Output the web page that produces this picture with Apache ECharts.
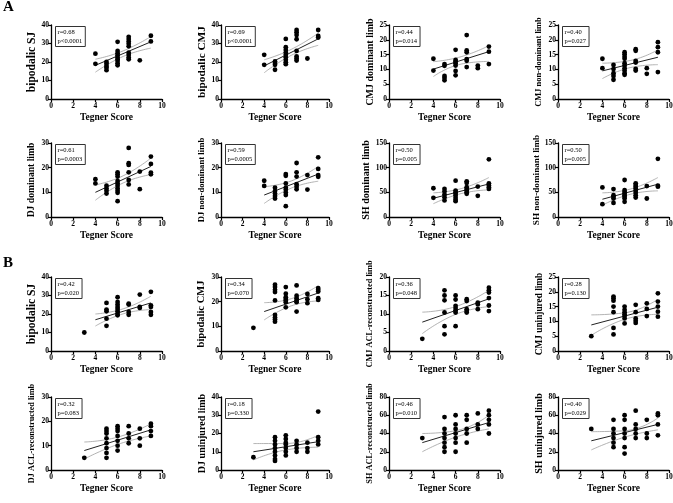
<!DOCTYPE html>
<html>
<head>
<meta charset="utf-8">
<script src="https://cdn.jsdelivr.net/npm/echarts@6/dist/echarts.min.js"></script>
<style>
  html, body { margin: 0; padding: 0; background: #fff; }
  #chart { width: 673px; height: 503px; }
</style>
</head>
<body>
<div id="chart"></div>
<script>
// panel titles (y axis), read row by row
const yNames = ['bipodalic SJ', 'bipodalic CMJ', 'CMJ dominant limb', 'CMJ non-dominant limb',
  'DJ dominant limb', 'DJ non-dominant limb', 'SH dominant limb', 'SH non-dominant limb',
  'bipodalic SJ', 'bipodalic CMJ', 'CMJ ACL-reconstructed limb', 'CMJ uninjured limb',
  'DJ ACL-reconstructed limb', 'DJ uninjured limb', 'SH ACL-reconstructed limb', 'SH uninjured limb']
const yMax = [40, 40, 25, 25, 30, 30, 150, 150, 40, 30, 20, 25, 30, 40, 80, 80]
const yStep = [10, 10, 5, 5, 10, 10, 50, 50, 10, 10, 5, 5, 10, 10, 20, 20]
const rText = ['0.68', '0.69', '0.44', '0.40', '0.61', '0.59', '0.50', '0.50',
  '0.42', '0.34', '0.36', '0.28', '0.32', '0.18', '0.46', '0.40']
const pText = ['<0.0001', '<0.0001', '=0.014', '=0.027', '=0.0003', '=0.0005', '=0.005', '=0.005',
  '=0.020', '=0.070', '=0.048', '=0.130', '=0.083', '=0.330', '=0.010', '=0.029']

// scatter points [tegner, value]
const sjHealthy = [[4,24.5],[4,19],[5,20],[5,19],[5,17.8],[5,16.9],[5,15.6],[6,30.9],[6,26],[6,24.7],[6,23.6],[6,22.4],[6,21.5],[6,20.5],[6,19.3],[6,18.2],[7,33.6],[7,32.4],[7,31.1],[7,29.8],[7,28.5],[7,25],[7,23.8],[7,22.4],[7,21.5],[8,20.9],[9,34.2],[9,31.1]]
const cmjHealthy = [[4,23.9],[4,18.5],[5,20.3],[5,19.4],[5,18.5],[5,15.8],[6,32.5],[6,28],[6,26.5],[6,25.1],[6,23.9],[6,22.6],[6,21.2],[6,19.9],[6,18.8],[7,37.3],[7,36.1],[7,34.6],[7,32.3],[7,26],[7,23],[7,21.9],[7,20.8],[8,21.9],[9,37.3],[9,34.1],[9,33.2]]
const cmjDom = [[4,13.6],[4,9.6],[5,11.8],[5,11.2],[5,7.8],[5,7.1],[5,6.3],[6,16.6],[6,13.2],[6,12.7],[6,12.1],[6,11.3],[6,9.5],[6,8],[7,21.6],[7,16.4],[7,15.8],[7,13.5],[7,12.9],[7,10.8],[8,11.3],[8,10.4],[9,17.7],[9,16],[9,11.8]]
const cmjNonDom = [[4,13.6],[4,10.4],[5,11.5],[5,10.1],[5,8.7],[5,7.8],[5,6.5],[6,15.8],[6,15.1],[6,14.3],[6,13.6],[6,12.1],[6,11.3],[6,10.4],[6,9.6],[6,8.7],[6,8.2],[7,16.8],[7,16.3],[7,12.9],[7,12.3],[7,10.2],[7,9.6],[8,10.4],[8,8.5],[9,19.2],[9,17.5],[9,15.8],[9,9.1]]
const djDom = [[4,15.3],[4,13.6],[5,12.7],[5,11.6],[5,10.6],[5,9.5],[6,18.1],[6,17.3],[6,16.4],[6,14.6],[6,13.6],[6,12.7],[6,11.6],[6,10.6],[6,9.8],[6,6.4],[7,28],[7,21.8],[7,21.1],[7,18.1],[7,15],[7,13.2],[8,18.4],[8,11.3],[9,24.5],[9,21.5],[9,18],[9,17.3]]
const djNonDom = [[4,14.7],[4,12.6],[5,11.9],[5,10.5],[5,9.5],[5,8.5],[5,7.5],[6,17.4],[6,16.7],[6,13.6],[6,11.9],[6,11],[6,9.9],[6,8.9],[6,4.4],[7,21.9],[7,18.1],[7,16.4],[7,13.3],[7,12.3],[7,11.2],[8,17],[8,11.1],[9,24.2],[9,19.5],[9,17],[9,16.3]]
const shDom = [[4,58.3],[4,38.8],[5,56.9],[5,51.6],[5,45.5],[5,40.2],[5,33.5],[6,73.7],[6,53.6],[6,50.2],[6,46.9],[6,43.5],[6,38.8],[6,34.8],[6,32.1],[7,72.3],[7,69],[7,60.3],[7,56.9],[7,53.6],[7,50.2],[7,46.9],[8,61.6],[8,42.9],[9,117],[9,68.3],[9,63.6],[9,60.3],[9,56.9]]
const shNonDom = [[4,60],[4,25.9],[5,56.6],[5,44.3],[5,40.9],[5,37.5],[5,28.6],[6,75],[6,54.5],[6,51.1],[6,47.7],[6,44.3],[6,40.9],[6,37.5],[6,30.7],[7,68.2],[7,64.8],[7,61.4],[7,57.9],[7,53.2],[7,49.1],[7,44.3],[7,39.5],[8,62.7],[8,37.5],[9,118],[9,63.4],[9,61.4]]
const sjAcl = [[3,10],[5,26],[5,22.4],[5,21.5],[5,17.5],[5,13.6],[6,29.1],[6,26.5],[6,25.1],[6,23.8],[6,22.7],[6,21.5],[6,20.2],[6,19.3],[7,25.6],[7,25.1],[7,21.1],[7,19.6],[8,30.5],[8,23.8],[8,23.3],[9,32],[9,24.7],[9,23.8],[9,21.1],[9,19.6]]
const cmjAcl = [[3,9.4],[5,26.9],[5,25.9],[5,24.8],[5,23.9],[5,20.5],[5,14.6],[5,13.6],[5,12.8],[5,11.9],[6,25.9],[6,23.2],[6,21.8],[6,21.1],[6,20.5],[6,19.8],[6,17.7],[7,26.6],[7,22.4],[7,21.4],[7,20.5],[7,19.8],[7,16],[8,23.1],[8,21],[8,19.4],[9,25.5],[9,24.8],[9,24.1],[9,21.4],[9,20.7]]
const cmjRecon = [[3,3.3],[5,16.4],[5,15],[5,13.7],[5,10.4],[5,6.7],[5,4.5],[6,15],[6,13.9],[6,12.2],[6,11.6],[6,11],[6,10.4],[6,6.7],[7,14],[7,13.5],[7,11.3],[7,10.8],[7,10.4],[8,13.1],[8,12.6],[8,11.3],[9,17.1],[9,16.4],[9,15.8],[9,14.3],[9,12.3],[9,10.8]]
const cmjUninj = [[3,5],[5,18.4],[5,17.8],[5,17],[5,15],[5,13.1],[5,7.8],[5,5.6],[6,15],[6,13.9],[6,13.1],[6,12.4],[6,11.8],[6,11],[6,9.3],[7,15.6],[7,13.1],[7,11],[7,10.2],[7,9.5],[8,16.1],[8,14.2],[8,11.8],[9,19.5],[9,16.7],[9,15],[9,13.3],[9,11.6]]
const djRecon = [[3,5],[5,17],[5,16],[5,15],[5,13],[5,11],[5,9],[5,7],[5,5],[6,18],[6,17],[6,16],[6,14],[6,12],[6,10],[6,8],[7,18],[7,15],[7,13],[7,11],[8,17],[8,13],[8,10],[9,19],[9,18],[9,16],[9,14]]
const djUninj = [[3,7],[5,18],[5,16],[5,14],[5,12],[5,10],[5,8],[5,6],[5,5],[6,19],[6,17],[6,15],[6,14],[6,12],[6,10],[6,8],[7,16],[7,14],[7,12],[7,10],[8,15],[8,12],[8,10],[9,32],[9,18],[9,16],[9,14]]
const shRecon = [[3,35],[5,58],[5,45],[5,40],[5,35],[5,30],[5,25],[5,20],[6,60],[6,50],[6,45],[6,40],[6,35],[6,30],[6,20],[7,60],[7,55],[7,45],[7,40],[7,30],[8,62],[8,50],[8,45],[9,65],[9,60],[9,55],[9,50],[9,40]]
const shUninj = [[3,45],[5,55],[5,45],[5,40],[5,35],[5,30],[5,25],[6,60],[6,55],[6,45],[6,40],[6,35],[6,25],[6,18],[7,65],[7,50],[7,45],[7,40],[7,35],[8,55],[8,40],[8,35],[9,62],[9,60],[9,50],[9,38]]
const points = [sjHealthy, cmjHealthy, cmjDom, cmjNonDom, djDom, djNonDom, shDom, shNonDom,
  sjAcl, cmjAcl, cmjRecon, cmjUninj, djRecon, djUninj, shRecon, shUninj]

const fitX = [[4,6.5,9],[4,6.5,9],[4,6.5,9],[4,6.5,9],[4,6.5,9],[4,6.5,9],[4,6.5,9],[4,6.5,9],
  [4,6.5,9],[4,6.5,9],[3,6,9],[3,6,9],[3,6,9],[3,6,9],[3,6,9],[3,6,9]]
const fitY = [[18.2,30.9],[17.9,32.5],[10.1,16],[9.5,14.1],[10,20.5],[8.9,17.4],[38,67],[36,66.5],
  [16.9,26],[16,23.5],[7.8,14.1],[8.8,14.8],[8,16.5],[10,15.5],[30,52],[32,50]]
const bandHi = [[21.5,26,33.8],[21.2,26.8,35.6],[12.6,14.3,18],[12.1,13,16.6],[13,16.7,23.9],[12.3,14.6,20.5],[49,57.5,80],[49,56.5,80],
  [20,22.8,29.6],[19.6,21.2,26.5],[10.5,12,16.4],[12.2,12.9,17.5],[11.5,13.5,19],[14.5,14.5,19],[40,43,60],[42,43,57]]
const bandLo = [[14.5,23,27.5],[14.2,23.6,29],[7.6,11.8,12.7],[6.9,10.6,11.6],[6.8,13.8,17.2],[5.5,11.7,14.5],[27,47.5,55],[24,46,53],
  [13.5,20.1,22.4],[12.6,18.3,20.3],[4.7,9.9,12],[5.3,10.7,12.4],[4.5,10.5,14],[5.5,11,12.5],[20,36,45],[22,36,44]]

// layout
const colLeft = [51, 221, 389, 558]
const colRight = [162, 329, 500, 669]
const rowTop = [25, 143, 277, 397]
const rowBottom = [99, 217, 351, 470]
const nameSize = [11.5, 11.3, 10, 8.4, 9.6, 8.7, 10.1, 9.2, 11.5, 10.5, 8.3, 9.3, 8.3, 10, 8.3, 10]
const serif = '"Liberation Serif", "Times New Roman", serif'

const grid = [], xAxis = [], yAxis = [], series = [], graphic = []

points.forEach((pts, i) => {
  const c = i % 4, r = Math.floor(i / 4)
  const L = colLeft[c], T = rowTop[r]
  grid.push({ left: L, top: T, width: colRight[c] - L, height: rowBottom[r] - T, outerBoundsMode: 'none' })
  const axisCommon = {
    gridIndex: i,
    axisLine: { show: true, lineStyle: { color: '#000', width: 1.3 } },
    axisTick: { show: true, length: 3, lineStyle: { color: '#000', width: 1.2 } },
    axisLabel: { color: '#000', fontFamily: serif, fontWeight: 'bold', fontSize: 7.5 },
    splitLine: { show: false },
    nameLocation: 'middle'
  }
  xAxis.push(Object.assign({}, axisCommon, {
    type: 'value', min: 0, max: 10, interval: 2,
    axisLabel: Object.assign({}, axisCommon.axisLabel, { margin: 3 }),
    name: 'Tegner Score', nameGap: 14,
    nameTextStyle: { color: '#000', fontFamily: serif, fontWeight: 'bold', fontSize: 9.5 }
  }))
  yAxis.push(Object.assign({}, axisCommon, {
    type: 'value', min: 0, max: yMax[i], interval: yStep[i],
    axisLabel: Object.assign({}, axisCommon.axisLabel, { margin: 2 }),
    name: yNames[i], nameGap: 19 - nameSize[i] / 2,
    nameTextStyle: { color: '#000', fontFamily: serif, fontWeight: 'bold', fontSize: nameSize[i] }
  }))

  const fx = fitX[i]
  const bandStyle = { color: '#a0a0a0', width: 0.8 }
  series.push({
    type: 'line', xAxisIndex: i, yAxisIndex: i, data: fx.map((x, k) => [x, bandHi[i][k]]),
    smooth: true, symbol: 'none', lineStyle: bandStyle, silent: true, z: 1
  })
  series.push({
    type: 'line', xAxisIndex: i, yAxisIndex: i, data: fx.map((x, k) => [x, bandLo[i][k]]),
    smooth: true, symbol: 'none', lineStyle: bandStyle, silent: true, z: 1
  })
  series.push({
    type: 'line', xAxisIndex: i, yAxisIndex: i, data: [[fx[0], fitY[i][0]], [fx[2], fitY[i][1]]],
    symbol: 'none', lineStyle: { color: '#222', width: 1 }, silent: true, z: 2
  })
  series.push({
    type: 'scatter', xAxisIndex: i, yAxisIndex: i, data: pts,
    symbolSize: 4.8, itemStyle: { color: '#000', opacity: 1 }, silent: true, z: 3
  })

  graphic.push({
    type: 'text', left: L + 4, top: T + 1, z: 10,
    style: {
      text: 'r=' + rText[i] + '\np' + pText[i],
      fontFamily: serif, fontSize: 6.5, lineHeight: 8.5, fill: '#000',
      padding: [2, 3, 1, 2], borderColor: '#333', borderWidth: 1
    }
  })
})

graphic.push({ type: 'text', left: 3, top: 0, style: { text: 'A', fontFamily: serif, fontWeight: 'bold', fontSize: 15, fill: '#000' } })
graphic.push({ type: 'text', left: 3, top: 256, style: { text: 'B', fontFamily: serif, fontWeight: 'bold', fontSize: 15, fill: '#000' } })

const chart = echarts.init(document.getElementById('chart'), null, { renderer: 'canvas' })
chart.setOption({
  backgroundColor: '#fff',
  animation: false,
  grid, xAxis, yAxis, series, graphic
})
</script>
</body>
</html>
